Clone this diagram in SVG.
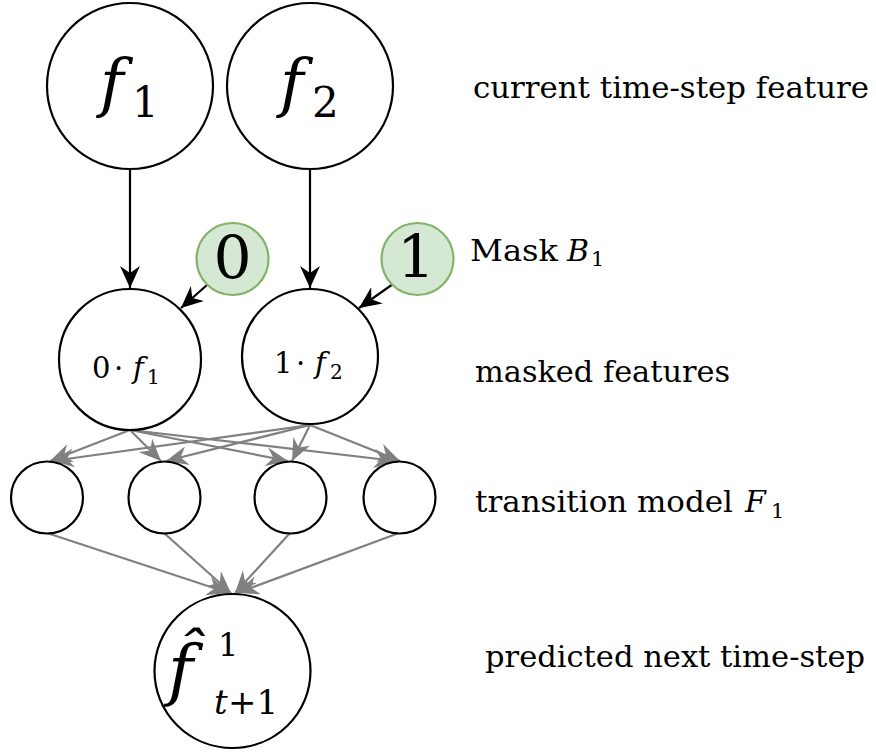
<svg xmlns="http://www.w3.org/2000/svg" width="876" height="754" viewBox="0 0 876 754">
<style>
.node{fill:#ffffff;stroke:#000000;stroke-width:2.2}
.mask{fill:#d5e8d4;stroke:#82b366;stroke-width:2.2}
text{font-family:"DejaVu Serif","Liberation Serif",serif;fill:#000000}
.it{font-style:italic}
.blk{stroke:#000000;stroke-width:2.2;fill:none}
.gry{stroke:#808080;stroke-width:2.2;fill:none}
</style>
<defs>
<marker id="ab" viewBox="0 0 22 20" refX="22" refY="10" markerWidth="22" markerHeight="20" markerUnits="userSpaceOnUse" orient="auto">
<path d="M0,0 L22,10 L0,20 L7,10 z" fill="#000000"/>
</marker>
<marker id="ag" viewBox="0 0 22 19" refX="22" refY="9.5" markerWidth="22" markerHeight="19" markerUnits="userSpaceOnUse" orient="auto">
<path d="M0,0 L22,9.5 L0,19 L7,9.5 z" fill="#808080"/>
</marker>
</defs>
<g id="connectors">
<line class="blk" x1="130" y1="170" x2="130" y2="288" marker-end="url(#ab)"/>
<line class="blk" x1="310" y1="170" x2="310" y2="288" marker-end="url(#ab)"/>
<line class="blk" x1="207" y1="285" x2="181" y2="308" marker-end="url(#ab)"/>
<line class="blk" x1="393" y1="284" x2="359" y2="308" marker-end="url(#ab)"/>
<line class="gry" x1="130" y1="430" x2="50" y2="461" marker-end="url(#ag)"/>
<line class="gry" x1="130" y1="430" x2="161" y2="461" marker-end="url(#ag)"/>
<line class="gry" x1="130" y1="430" x2="288" y2="461" marker-end="url(#ag)"/>
<line class="gry" x1="130" y1="430" x2="396" y2="461" marker-end="url(#ag)"/>
<line class="gry" x1="310" y1="425" x2="52" y2="461" marker-end="url(#ag)"/>
<line class="gry" x1="310" y1="425" x2="166" y2="461" marker-end="url(#ag)"/>
<line class="gry" x1="310" y1="425" x2="292" y2="461" marker-end="url(#ag)"/>
<line class="gry" x1="310" y1="425" x2="400" y2="461" marker-end="url(#ag)"/>
<line class="gry" x1="47" y1="533" x2="229" y2="593" marker-end="url(#ag)"/>
<line class="gry" x1="164" y1="533" x2="231" y2="593" marker-end="url(#ag)"/>
<line class="gry" x1="290" y1="533" x2="235" y2="593" marker-end="url(#ag)"/>
<line class="gry" x1="399" y1="533" x2="237" y2="593" marker-end="url(#ag)"/>
</g>
<g id="f1">
<circle class="node" cx="130" cy="86" r="83"/>
<text y="105"><tspan class="it" x="100" font-size="64">f</tspan><tspan x="132" y="117" font-size="42">1</tspan></text>
</g>
<g id="f2">
<circle class="node" cx="310" cy="86" r="83"/>
<text y="105"><tspan class="it" x="280" font-size="64">f</tspan><tspan x="312" y="117" font-size="42">2</tspan></text>
</g>
<g id="mask0">
<circle class="mask" cx="232.5" cy="259" r="36"/>
<text x="232.5" y="279" font-size="60" text-anchor="middle">0</text>
</g>
<g id="mask1">
<circle class="mask" cx="417.5" cy="259" r="36"/>
<text x="416" y="278" font-size="60" text-anchor="middle">1</text>
</g>
<g id="m1">
<ellipse class="node" cx="130" cy="359.5" rx="71" ry="70.5"/>
<text y="378" font-size="29"><tspan x="92">0</tspan><tspan x="114">·</tspan><tspan class="it" x="133">f</tspan><tspan x="147" y="384" font-size="20">1</tspan></text>
</g>
<g id="m2">
<ellipse class="node" cx="310" cy="356.5" rx="68" ry="67.5"/>
<text y="373" font-size="29"><tspan x="274">1</tspan><tspan x="296">·</tspan><tspan class="it" x="315">f</tspan><tspan x="330" y="379" font-size="20">2</tspan></text>
</g>
<g id="h1"><circle class="node" cx="47" cy="497.5" r="36"/></g>
<g id="h2"><circle class="node" cx="164.5" cy="497.5" r="36"/></g>
<g id="h3"><circle class="node" cx="290.5" cy="497.5" r="36"/></g>
<g id="h4"><circle class="node" cx="399.5" cy="497.5" r="36"/></g>
<g id="pred">
<ellipse class="node" cx="232.5" cy="671" rx="78" ry="77"/>
<text><tspan class="it" x="168" y="693" font-size="68">f&#x302;</tspan><tspan x="218" y="656" font-size="32">1</tspan><tspan class="it" x="214" y="714" font-size="34">t</tspan><tspan x="228" y="714" font-size="34">+1</tspan></text>
</g>
<g id="labels">
<text x="473" y="98" font-size="29" textLength="396" lengthAdjust="spacingAndGlyphs">current time-step feature</text>
<text y="261" font-size="30"><tspan x="470" textLength="88" lengthAdjust="spacingAndGlyphs">Mask</tspan><tspan class="it" x="567">B</tspan><tspan x="591" y="266" font-size="21">1</tspan></text>
<text x="475" y="382" font-size="29" textLength="255" lengthAdjust="spacingAndGlyphs">masked features</text>
<text y="512" font-size="30"><tspan x="475" textLength="258" lengthAdjust="spacingAndGlyphs">transition model</tspan><tspan class="it" x="745">F</tspan><tspan x="771" y="518" font-size="21">1</tspan></text>
<text x="485" y="667" font-size="29" textLength="380" lengthAdjust="spacingAndGlyphs">predicted next time-step</text>
</g>
</svg>
